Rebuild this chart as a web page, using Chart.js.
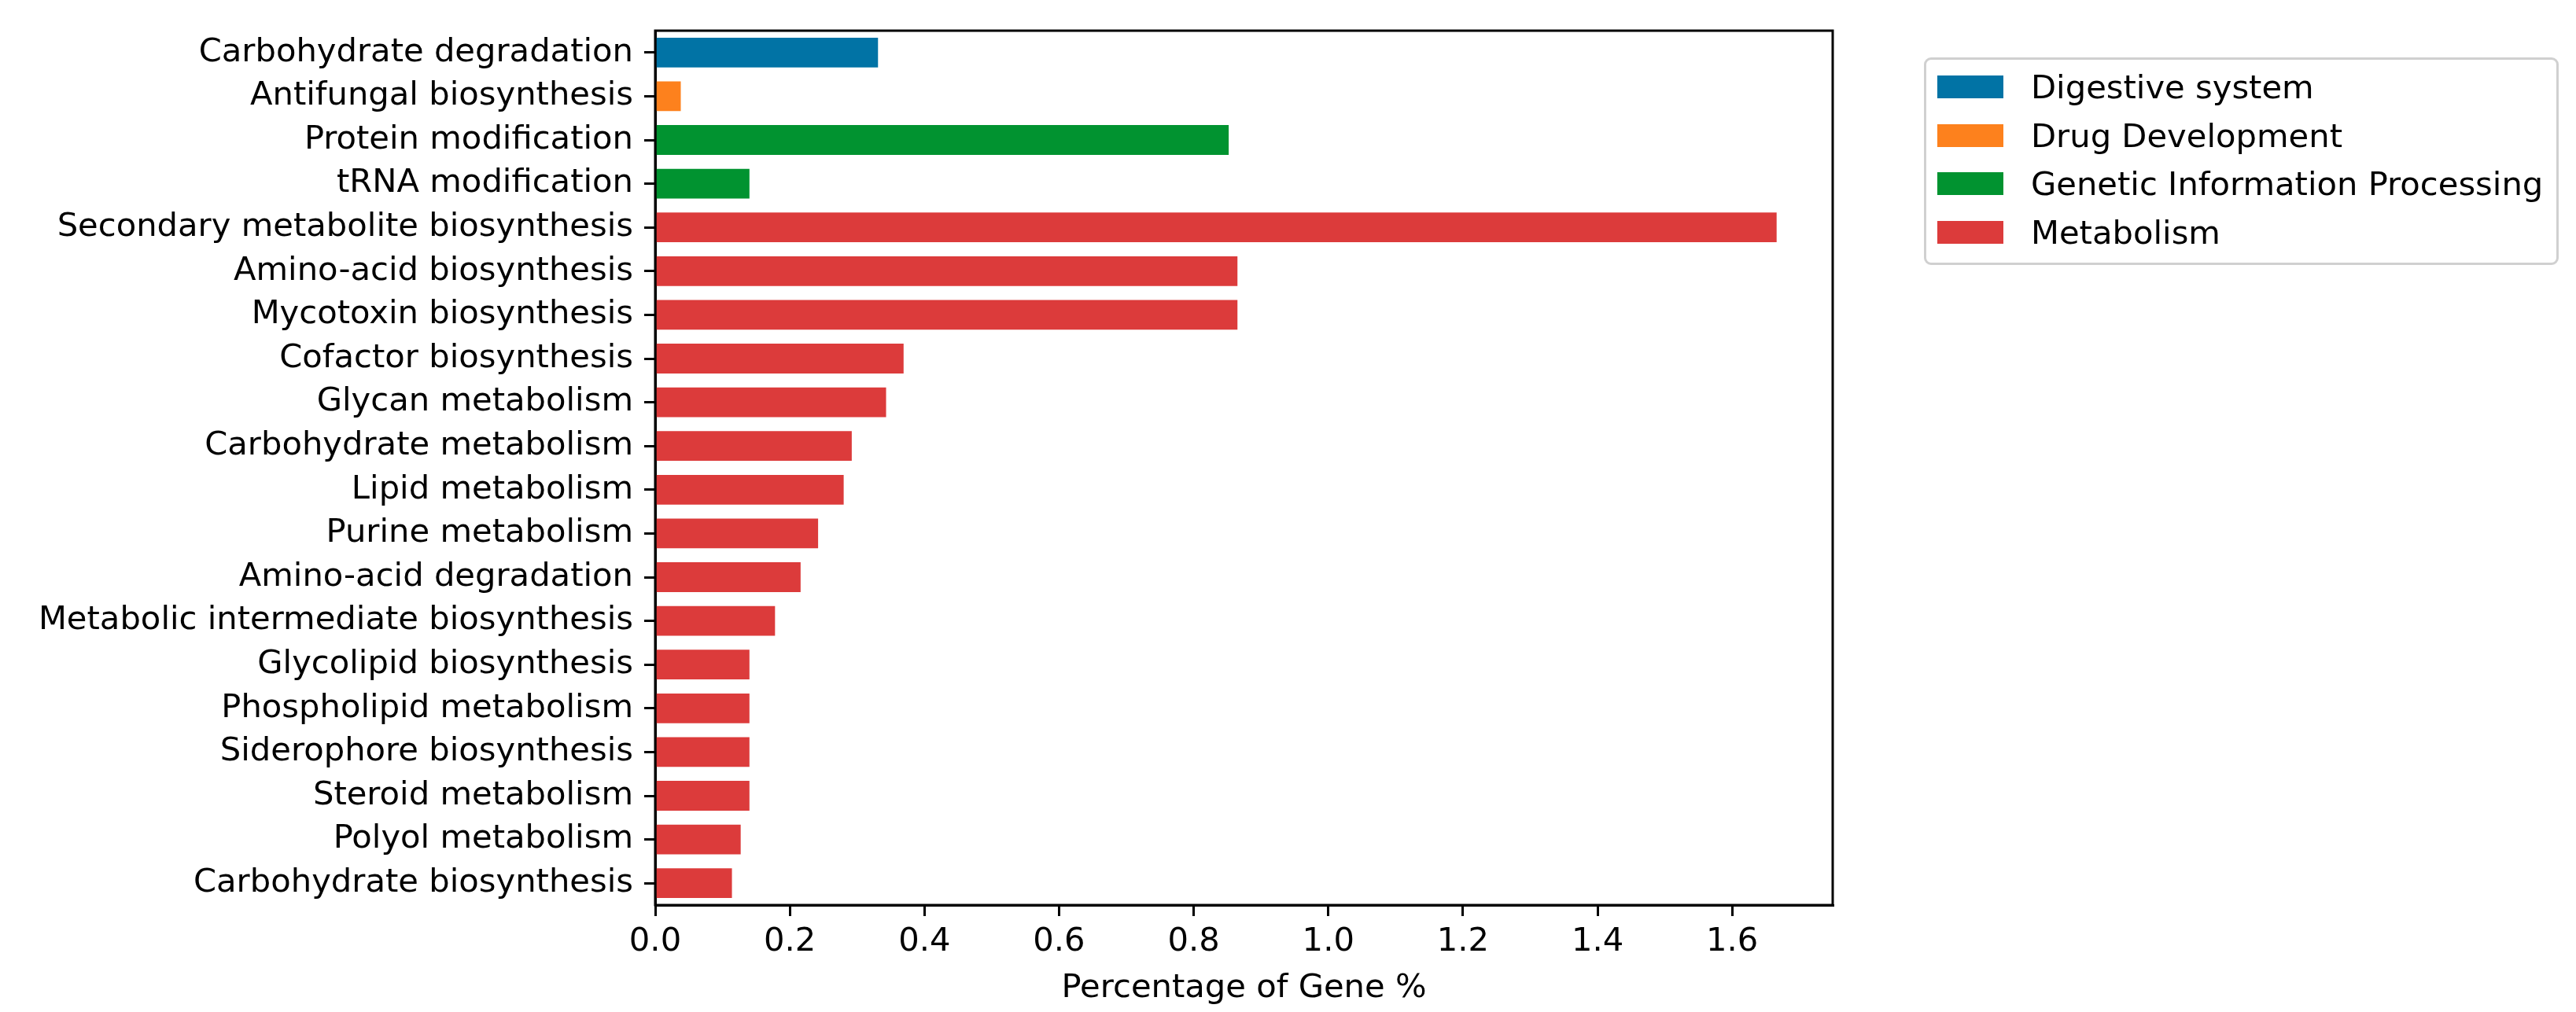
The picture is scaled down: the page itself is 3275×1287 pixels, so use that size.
<!DOCTYPE html>
<html>
<head>
<meta charset="utf-8">
<script src="https://cdn.jsdelivr.net/npm/chart.js@4.4.0/dist/chart.umd.min.js"></script>
<style>
  html, body { margin: 0; padding: 0; background: #ffffff; }
  #wrap { position: relative; width: 3275px; height: 1287px; }
  #legend { position: absolute; left: 2446px; top: 73px; width: 801px; height: 258px;
            border: 3px solid #d0d0d0; border-radius: 9px; background: #fff;
            font-family: "DejaVu Sans", sans-serif; font-size: 41.7px; color: #000; }
  .row { position: absolute; left: 0; height: 62px; display: flex; align-items: center; white-space: nowrap; }
  .sw { width: 84px; height: 29px; margin-left: 14px; margin-right: 35px; }
</style>
</head>
<body>
<div id="wrap">
  <canvas id="c" width="3275" height="1287"></canvas>
  <div id="legend"></div>
</div>
<script>
const categories = [
  "Carbohydrate degradation", "Antifungal biosynthesis", "Protein modification", "tRNA modification",
  "Secondary metabolite biosynthesis", "Amino-acid biosynthesis", "Mycotoxin biosynthesis",
  "Cofactor biosynthesis", "Glycan metabolism", "Carbohydrate metabolism", "Lipid metabolism",
  "Purine metabolism", "Amino-acid degradation", "Metabolic intermediate biosynthesis",
  "Glycolipid biosynthesis", "Phospholipid metabolism", "Siderophore biosynthesis",
  "Steroid metabolism", "Polyol metabolism", "Carbohydrate biosynthesis"
];
const values = [
  0.331, 0.038, 0.852, 0.140,
  1.666, 0.865, 0.865,
  0.369, 0.343, 0.292, 0.280,
  0.242, 0.216, 0.178,
  0.140, 0.140, 0.140,
  0.140, 0.127, 0.114
];
const categoryGroups = [
  "Digestive system", "Drug Development", "Genetic Information Processing", "Genetic Information Processing",
  "Metabolism", "Metabolism", "Metabolism", "Metabolism", "Metabolism", "Metabolism", "Metabolism",
  "Metabolism", "Metabolism", "Metabolism", "Metabolism", "Metabolism", "Metabolism",
  "Metabolism", "Metabolism", "Metabolism"
];
const groupNames = ["Digestive system", "Drug Development", "Genetic Information Processing", "Metabolism"];
const groupColors = ["#0173a5", "#fd811d", "#019330", "#dc3b3b"];
const xTicks = [0, 0.2, 0.4, 0.6, 0.8, 1.0, 1.2, 1.4, 1.6];
const xTitle = "Percentage of Gene %";

const FONT = "DejaVu Sans";
const FS = 41.7;

const datasets = groupNames.map((g, gi) => ({
  label: g,
  data: values.map((v, i) => categoryGroups[i] === g ? v : null),
  backgroundColor: groupColors[gi],
  borderWidth: 0,
  grouped: false,
  categoryPercentage: 1.0,
  barPercentage: 0.68
}));

const frame = {
  id: 'frame',
  afterDraw(chart) {
    const { ctx, chartArea: a } = chart;
    ctx.save();
    ctx.strokeStyle = '#000';
    ctx.lineWidth = 3;
    ctx.strokeRect(a.left, a.top, a.right - a.left, a.bottom - a.top);
    ctx.restore();
  }
};

new Chart(document.getElementById('c'), {
  type: 'bar',
  data: { labels: categories, datasets },
  options: {
    indexAxis: 'y',
    responsive: false,
    animation: false,
    devicePixelRatio: 1,
    layout: { padding: { left: 0, right: 945, top: 33, bottom: 0 } },
    plugins: { legend: { display: false }, tooltip: { enabled: false } },
    scales: {
      x: {
        type: 'linear',
        min: 0,
        max: Math.max(...values) * 1.05,
        afterBuildTicks(scale) { scale.ticks = xTicks.map(v => ({ value: v })); },
        afterFit(scale) { scale.height = 136; },
        ticks: {
          color: '#000', padding: 8,
          font: { family: FONT, size: FS },
          callback: v => Number(v).toFixed(1)
        },
        grid: { drawOnChartArea: false, drawTicks: true, tickLength: 14, color: '#000', lineWidth: 3 },
        border: { display: true, color: '#000', width: 3 },
        title: { display: true, text: xTitle, color: '#000', font: { family: FONT, size: FS }, padding: { top: 4, bottom: 5 } }
      },
      y: {
        afterFit(scale) { scale.width = 833; },
        ticks: { color: '#000', padding: 14, font: { family: FONT, size: FS }, autoSkip: false },
        grid: { offset: false, drawOnChartArea: false, drawTicks: true, tickLength: 14, color: '#000', lineWidth: 3 },
        border: { display: true, color: '#000', width: 3 }
      }
    }
  },
  plugins: [frame]
});

const legend = document.getElementById('legend');
const rowCenters = [34, 96, 157, 219];
groupNames.forEach((g, i) => {
  const row = document.createElement('div');
  row.className = 'row';
  row.style.top = (rowCenters[i] - 31) + 'px';
  const sw = document.createElement('div');
  sw.className = 'sw';
  sw.style.background = groupColors[i];
  const tx = document.createElement('span');
  tx.textContent = g;
  row.appendChild(sw);
  row.appendChild(tx);
  legend.appendChild(row);
});
</script>
</body>
</html>
